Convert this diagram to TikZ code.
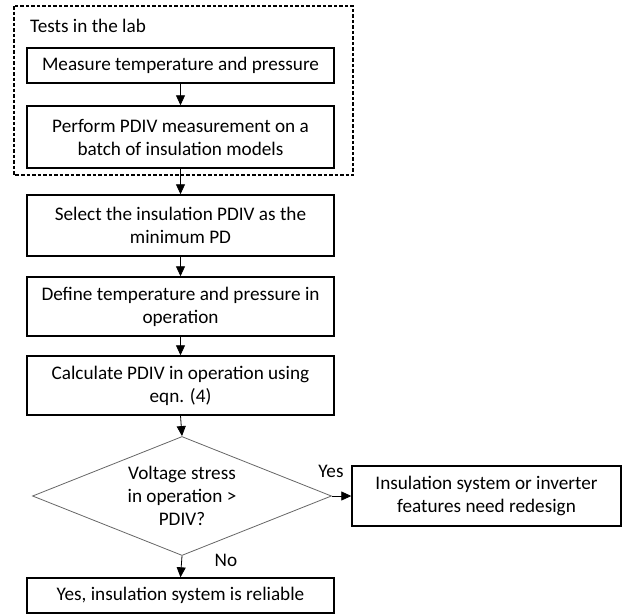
\documentclass[tikz,border=0pt]{standalone}
\usepackage{fontspec}
\setmainfont{Carlito}
\usetikzlibrary{shapes.geometric,arrows.meta}
\begin{document}
\begin{tikzpicture}[x=1pt,y=-1pt,
  box/.style={draw=black,line width=1.4pt,rectangle,align=center,inner sep=0pt,font=\fontsize{19.2}{23}\selectfont},
  arr/.style={line width=0.8pt,-{Triangle[length=10pt,width=9pt]}},
  lbl/.style={font=\fontsize{19.2}{23}\selectfont,inner sep=0pt}]
\useasboundingbox (0,0) rectangle (625,614);
\draw[line width=1.4pt,dash pattern=on 3.5pt off 2pt] (14,6) rectangle (353,175);
\node[lbl,anchor=west] (title) at (30,26) {Tests in the lab};
\node[box,minimum width=307pt,minimum height=35pt] (b1) at (180.5,65.5) {Measure temperature and pressure};
\node[box,minimum width=307pt,minimum height=62pt] (b2) at (180.5,137) {Perform PDIV measurement on a\\batch of insulation models};
\node[box,minimum width=307pt,minimum height=61pt] (b3) at (180.5,225.5) {Select the insulation PDIV as the\\minimum PD};
\node[box,minimum width=307pt,minimum height=59pt] (b4) at (180.5,306.5) {Define temperature and pressure in\\operation};
\node[box,minimum width=307pt,minimum height=59pt] (b5) at (180.5,385.5) {Calculate PDIV in operation using\\eqn. (4)};
\node[diamond,draw=black!60,line width=0.8pt,inner sep=0pt,minimum width=299pt,minimum height=119pt,aspect=2.5,align=center,font=\fontsize{19.2}{23}\selectfont] (d) at (182,496) {Voltage stress\\in operation >\\PDIV?};
\node[box,minimum width=269pt,minimum height=60pt] (y) at (486.5,496) {Insulation system or inverter\\features need redesign};
\node[box,minimum width=307pt,minimum height=35pt] (n) at (180.5,595.5) {Yes, insulation system is reliable};
\draw[arr] (b1.south) -- (b2.north);
\draw[arr] (b2.south) -- (b3.north);
\draw[arr] (b3.south) -- (b4.north);
\draw[arr] (b4.south) -- (b5.north);
\draw[arr] (b5.south) -- (d.north);
\draw[arr] (d.east) -- (y.west);
\draw[arr] (d.south) -- (n.north);
\node[lbl] (yes) at (331,471) {Yes};
\node[lbl] (no) at (226,560) {No};
\end{tikzpicture}
\end{document}
